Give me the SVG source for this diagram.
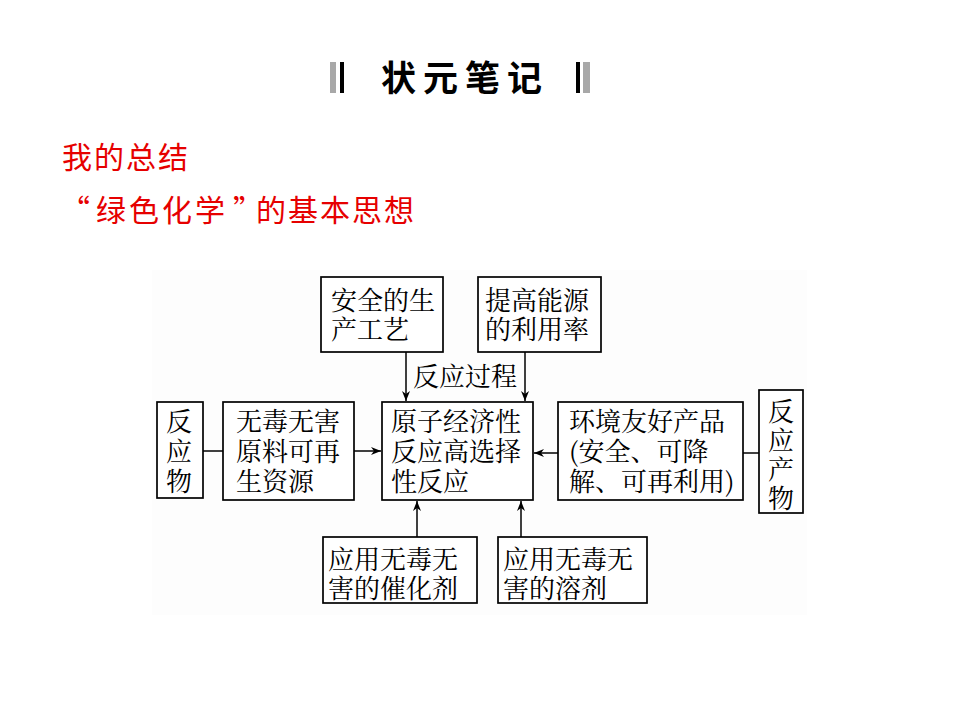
<svg xmlns="http://www.w3.org/2000/svg" width="960" height="720" viewBox="0 0 960 720">
<style>
.bx{fill:#fff;stroke:#000;stroke-width:1.7}
.t{font-family:"Noto Serif CJK SC","Noto Sans CJK SC",serif;font-size:26px;fill:#000}
.c{stroke:#000;stroke-width:1.5;fill:none}
.red{font-family:"Noto Sans CJK SC",sans-serif;font-size:30px;fill:#e60000}
</style>
<defs>
<marker id="ah" markerUnits="userSpaceOnUse" markerWidth="12" markerHeight="10" refX="10" refY="4" orient="auto">
<path d="M0,0 L10,4 L0,8 L3,4 z" fill="#000"/>
</marker>
</defs>
<rect width="960" height="720" fill="#fff"/>
<g id="title">
<rect x="330" y="62" width="6" height="31" fill="#a8a8a8"/>
<rect x="340" y="62" width="4" height="31" fill="#000"/>
<text x="381" y="91" font-family="Noto Sans CJK SC,sans-serif" font-size="35" font-weight="bold" letter-spacing="7">状元笔记</text>
<rect x="576" y="62" width="4" height="31" fill="#000"/>
<rect x="583" y="62" width="7" height="31" fill="#a8a8a8"/>
</g>
<g id="summary">
<text class="red" x="62" y="168" letter-spacing="2">我的总结</text>
<text class="red" y="221"><tspan x="60">“</tspan><tspan x="96" letter-spacing="3">绿色化学</tspan><tspan x="233">”</tspan><tspan x="256" letter-spacing="2">的基本思想</tspan></text>
</g>
<rect id="figure-bg" x="152" y="270" width="655" height="345" fill="#fdfdfd"/>
<g id="connectors">
<line class="c" x1="406" y1="352" x2="406" y2="401" marker-end="url(#ah)"/>
<line class="c" x1="525" y1="352" x2="525" y2="401" marker-end="url(#ah)"/>
<line class="c" x1="203" y1="451" x2="223" y2="451"/>
<line class="c" x1="354" y1="451" x2="381" y2="451" marker-end="url(#ah)"/>
<line class="c" x1="558" y1="453" x2="534" y2="453" marker-end="url(#ah)"/>
<line class="c" x1="743" y1="453" x2="759" y2="453"/>
<line class="c" x1="417" y1="537" x2="417" y2="501" marker-end="url(#ah)"/>
<line class="c" x1="521" y1="537" x2="521" y2="501" marker-end="url(#ah)"/>
<text class="t" x="413" y="386">反应过程</text>
</g>
<g id="safe-process">
<rect class="bx" x="321" y="277" width="122" height="75"/>
<text class="t"><tspan x="331" y="310">安全的生</tspan><tspan x="331" y="339">产工艺</tspan></text>
</g>
<g id="energy">
<rect class="bx" x="478" y="277" width="123" height="75"/>
<text class="t"><tspan x="485" y="310">提高能源</tspan><tspan x="485" y="339">的利用率</tspan></text>
</g>
<g id="reactant">
<rect class="bx" x="157" y="402" width="46" height="96"/>
<text class="t"><tspan x="166" y="431">反</tspan><tspan x="166" y="461">应</tspan><tspan x="166" y="491">物</tspan></text>
</g>
<g id="raw-material">
<rect class="bx" x="223" y="402" width="131" height="98"/>
<text class="t"><tspan x="236" y="431">无毒无害</tspan><tspan x="236" y="461">原料可再</tspan><tspan x="236" y="491">生资源</tspan></text>
</g>
<g id="center">
<rect class="bx" x="382" y="402" width="151" height="98"/>
<text class="t"><tspan x="391" y="431">原子经济性</tspan><tspan x="391" y="461">反应高选择</tspan><tspan x="391" y="491">性反应</tspan></text>
</g>
<g id="product-good">
<rect class="bx" x="558" y="402" width="185" height="98"/>
<text class="t"><tspan x="569" y="431">环境友好产品</tspan><tspan x="569" y="461">(安全、可降</tspan><tspan x="569" y="491">解、可再利用)</tspan></text>
</g>
<g id="product">
<rect class="bx" x="759" y="390" width="44" height="123"/>
<text class="t"><tspan x="768" y="421">反</tspan><tspan x="768" y="450">应</tspan><tspan x="768" y="479">产</tspan><tspan x="768" y="508">物</tspan></text>
</g>
<g id="catalyst">
<rect class="bx" x="323" y="537" width="154" height="66"/>
<text class="t"><tspan x="328" y="569">应用无毒无</tspan><tspan x="328" y="598">害的催化剂</tspan></text>
</g>
<g id="solvent">
<rect class="bx" x="498" y="537" width="149" height="66"/>
<text class="t"><tspan x="503" y="569">应用无毒无</tspan><tspan x="503" y="598">害的溶剂</tspan></text>
</g>
</svg>
